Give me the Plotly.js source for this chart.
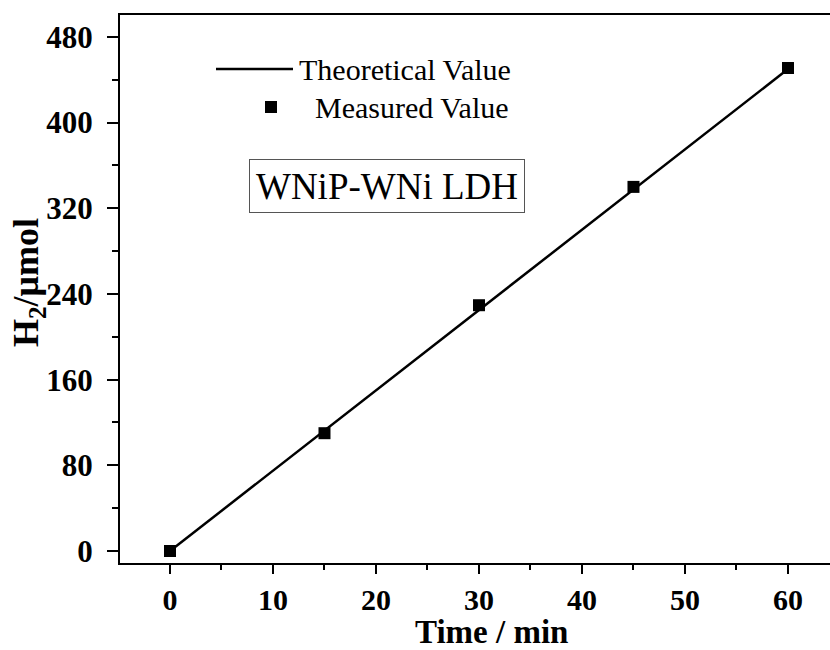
<!DOCTYPE html>
<html>
<head>
<meta charset="utf-8">
<script src="https://cdn.plot.ly/plotly-3.0.1.min.js"></script>
<style>html,body{margin:0;padding:0;background:#fff;} #chart{width:830px;height:650px;}</style>
</head>
<body>
<div id="chart"></div>
<script>
// Data
const timeMin = [0, 15, 30, 45, 60];
const theoreticalH2 = [0, 112.5, 225, 337.5, 450];
const measuredH2 = [0, 110, 229.5, 340, 451];
const xTickVals = [0, 10, 20, 30, 40, 50, 60];
const yTickVals = [0, 80, 160, 240, 320, 400, 480];
const seriesNames = ["Theoretical Value", "Measured Value"];
const sampleLabel = "WNiP-WNi LDH";
const xTitle = "Time / min";
const yTitle = "H<sub>2</sub>/μmol";

const serif = "Liberation Serif, Times New Roman, serif";

const traces = [
  {
    x: timeMin, y: theoreticalH2, name: seriesNames[0], type: "scatter", mode: "lines",
    line: {color: "#000", width: 2.5}, showlegend: false, cliponaxis: false
  },
  {
    x: timeMin, y: measuredH2, name: seriesNames[1], type: "scatter", mode: "markers",
    marker: {symbol: "square", size: 12, color: "#000"}, showlegend: false, cliponaxis: false
  }
];

const W = 710, H = 548; // plot area px
function px(xp){ return (xp - 120) / W; }
function py(yp){ return (563 - yp) / H; }

const layout = {
  width: 830, height: 650,
  margin: {l: 120, r: 0, t: 15, b: 87},
  paper_bgcolor: "#fff", plot_bgcolor: "#fff",
  showlegend: false,
  xaxis: {
    range: [-4.854, 64.08], tickvals: xTickVals, ticktext: xTickVals.map(String),
    ticks: "outside", ticklen: 9, tickwidth: 2, tickcolor: "#000",
    showline: true, linewidth: 2, linecolor: "#000", mirror: true,
    showgrid: false, zeroline: false,
    tickfont: {family: serif, size: 30, color: "#000", weight: "bold"},
    minor: {dtick: 5, tick0: 0, ticks: "outside", ticklen: 5, tickwidth: 2, tickcolor: "#000", showgrid: false}
  },
  yaxis: {
    range: [-11.2, 500.5], tickvals: yTickVals, ticktext: yTickVals.map(String),
    ticks: "outside", ticklen: 11, tickwidth: 2, tickcolor: "#000",
    ticklabelstandoff: 8,
    showline: true, linewidth: 2, linecolor: "#000", mirror: false,
    showgrid: false, zeroline: false,
    tickfont: {family: serif, size: 31, color: "#000", weight: "bold"},
    minor: {dtick: 40, tick0: 0, ticks: "outside", ticklen: 6, tickwidth: 2, tickcolor: "#000", showgrid: false}
  },
  shapes: [
    {type: "line", xref: "paper", yref: "paper", x0: px(216), x1: px(293), y0: py(69), y1: py(69),
     line: {color: "#000", width: 2.5}},
    {type: "rect", xref: "paper", yref: "paper", xsizemode: "pixel", ysizemode: "pixel",
     xanchor: px(271), yanchor: py(107), x0: -6, x1: 6, y0: -6, y1: 6,
     fillcolor: "#000", line: {width: 0}}
  ],
  annotations: [
    {xref: "paper", yref: "paper", x: px(297), y: py(69), xanchor: "left", yanchor: "middle",
     text: seriesNames[0], showarrow: false, font: {family: serif, size: 30, color: "#000"}},
    {xref: "paper", yref: "paper", x: px(313), y: py(107), xanchor: "left", yanchor: "middle",
     text: seriesNames[1], showarrow: false, font: {family: serif, size: 30, color: "#000"}},
    {xref: "paper", yref: "paper", x: px(387), y: py(186), xanchor: "center", yanchor: "middle",
     text: sampleLabel, showarrow: false, font: {family: serif, size: 37, color: "#000"},
     bordercolor: "#555", borderwidth: 1, borderpad: 0, width: 274, height: 52},
    {xref: "paper", yref: "paper", x: px(491), y: py(632), xanchor: "center", yanchor: "middle",
     text: xTitle, showarrow: false, font: {family: serif, size: 33, color: "#000", weight: "bold"}},
    {xref: "paper", yref: "paper", x: px(28), y: py(283), xanchor: "center", yanchor: "middle",
     textangle: -90, text: yTitle, showarrow: false, font: {family: serif, size: 36, color: "#000", weight: "bold"}}
  ]
};

Plotly.newPlot("chart", traces, layout, {displayModeBar: false, staticPlot: true});
</script>
</body>
</html>
